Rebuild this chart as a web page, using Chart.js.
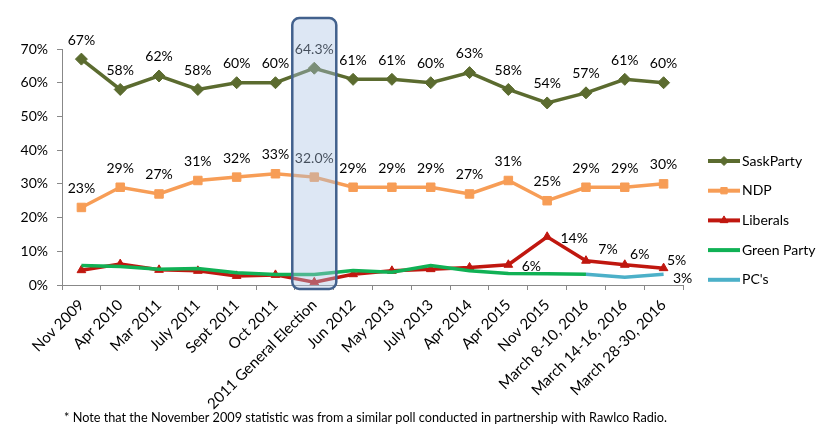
<!DOCTYPE html>
<html>
<head>
<meta charset="utf-8">
<script src="https://cdn.jsdelivr.net/npm/chart.js@4/dist/chart.umd.min.js"></script>
<style>
  html, body { margin: 0; padding: 0; background: #fff; }
  #wrap { position: relative; width: 835px; height: 433px; }
</style>
</head>
<body>
<div id="wrap"><canvas id="pollChart" width="835" height="433"></canvas></div>
<script>
const categories = ['Nov 2009', 'Apr 2010', 'Mar 2011', 'July 2011', 'Sept 2011', 'Oct 2011',
  '2011 General Election', 'Jun 2012', 'May 2013', 'July 2013', 'Apr 2014', 'Apr 2015',
  'Nov 2015', 'March 8-10, 2016', 'March 14-16, 2016', 'March 28-30, 2016'];

const saskParty = [67, 58, 62, 58, 60, 60, 64.3, 61, 61, 60, 63, 58, 54, 57, 61, 60];
const ndp = [23, 29, 27, 31, 32, 33, 32.0, 29, 29, 29, 27, 31, 25, 29, 29, 30];
const liberals = [4.4, 6.2, 4.5, 4.2, 2.7, 3.0, 0.8, 3.2, 4.2, 4.7, 5.2, 6.0, 14.3, 7.2, 6.0, 5.0];
const greenParty = [5.8, 5.5, 4.7, 4.9, 3.6, 3.1, 3.1, 4.3, 3.8, 5.8, 4.2, 3.4, 3.3, 3.2, null, null];
const pcs = [null, null, null, null, null, null, null, null, null, null, null, null, null, 3.2, 2.3, 3.2];

const yTicks = [0, 10, 20, 30, 40, 50, 60, 70];

// which points carry a value label
const liberalLabelIdx = [11, 12, 13, 14, 15];
const pcLabelIdx = [15];
const electionIdx = 6;

// label nudges for the liberal points (dx, dy), keyed by index
const libLabelOffset = { 11: [23, 2], 12: [27, 2], 13: [22, -11], 14: [15, -10], 15: [13, -8] };

const FONT = 'Lato, "Open Sans", sans-serif';

function fmt(v, i) {
  return (i === electionIdx ? v.toFixed(1) : Math.round(v)) + '%';
}

const ctx = document.getElementById('pollChart').getContext('2d');

const series = [
  { label: 'SaskParty', data: saskParty, color: '#5b6b2f', style: 'rectRot', radius: 6, order: 3 },
  { label: 'NDP', data: ndp, color: '#f79d56', style: 'rect', radius: 6, order: 4 },
  { label: 'Liberals', data: liberals, color: '#c0170f', style: 'triangle', radius: 5, order: 2 },
  { label: 'Green Party', data: greenParty, color: '#10b155', style: false, radius: 0, order: 1 },
  { label: "PC's", data: pcs, color: '#4cb0c8', style: false, radius: 0, order: 1 }
];

const overlayPlugin = {
  id: 'overlay',
  afterDraw(chart) {
    const c = chart.ctx;
    const xs = chart.scales.x;
    const area = chart.chartArea;
    c.save();
    c.font = '14px ' + FONT;
    c.fillStyle = '#000';
    c.textBaseline = 'middle';

    // value labels
    c.textAlign = 'center';
    [0, 1].forEach(di => {
      chart.getDatasetMeta(di).data.forEach((pt, i) => {
        c.fillText(fmt(series[di].data[i], i), pt.x, pt.y - 19);
      });
    });
    const libMeta = chart.getDatasetMeta(2).data;
    liberalLabelIdx.forEach(i => {
      const pt = libMeta[i];
      const off = libLabelOffset[i];
      c.fillText(fmt(liberals[i], i), pt.x + off[0], pt.y + off[1]);
    });
    const pcMeta = chart.getDatasetMeta(4).data;
    pcLabelIdx.forEach(i => {
      const pt = pcMeta[i];
      c.fillText(fmt(pcs[i], i), pt.x + 19, pt.y + 4);
    });

    // highlight box around the election
    const cx = xs.getPixelForValue(electionIdx);
    c.beginPath();
    c.roundRect(cx - 22, area.top - 31, 44, area.bottom - area.top + 35, 7);
    c.fillStyle = 'rgba(170,195,228,0.4)';
    c.fill();
    c.lineWidth = 2.5;
    c.strokeStyle = '#42618d';
    c.stroke();

    // legend
    let ly = 161;
    c.textAlign = 'left';
    series.forEach(s => {
      c.beginPath();
      c.strokeStyle = s.color;
      c.lineWidth = 4;
      c.moveTo(708, ly);
      c.lineTo(740, ly);
      c.stroke();
      if (s.style) {
        c.fillStyle = s.color;
        c.strokeStyle = s.color;
        c.lineWidth = 1;
        Chart.helpers.drawPoint(c, { pointStyle: s.style, radius: 4.5, rotation: 0, borderWidth: 1 }, 724, ly);
      }
      c.fillStyle = '#000';
      c.fillText(s.label, 742, ly);
      ly += 29.7;
    });

    // footnote
    c.font = '12.7px ' + FONT;
    c.fillText('* Note that the November 2009 statistic was from a similar poll conducted in partnership with Rawlco Radio.', 64, 418);
    c.restore();
  }
};

new Chart(ctx, {
  type: 'line',
  data: {
    labels: categories,
    datasets: series.map(s => ({
      label: s.label,
      data: s.data,
      borderColor: s.color,
      backgroundColor: s.color,
      borderWidth: 3.5,
      pointStyle: s.style,
      pointRadius: s.radius,
      pointBorderWidth: 1,
      tension: 0,
      order: s.order,
      spanGaps: false
    }))
  },
  options: {
    responsive: false,
    animation: false,
    layout: { padding: { top: 49, right: 152, left: 0, bottom: 0 } },
    plugins: { legend: { display: false }, tooltip: { enabled: false } },
    scales: {
      x: {
        offset: true,
        afterFit: (scale) => { scale.height = 148; },
        grid: { display: true, drawOnChartArea: false, offset: true, tickLength: 5, color: '#888' },
        border: { color: '#888', width: 1 },
        ticks: { minRotation: 45, maxRotation: 45, autoSkip: false, padding: 6, color: '#000', font: { family: FONT, size: 15 } }
      },
      y: {
        min: 0,
        max: 70,
        afterFit: (scale) => { scale.width = 62; },
        afterBuildTicks: (scale) => { scale.ticks = yTicks.map(v => ({ value: v })); },
        grid: { display: true, drawOnChartArea: false, tickLength: 5, color: '#888' },
        border: { color: '#888', width: 1 },
        ticks: { padding: 9, color: '#000', font: { family: FONT, size: 14 }, callback: (v) => v + '%' }
      }
    }
  },
  plugins: [overlayPlugin]
});
</script>
</body>
</html>
